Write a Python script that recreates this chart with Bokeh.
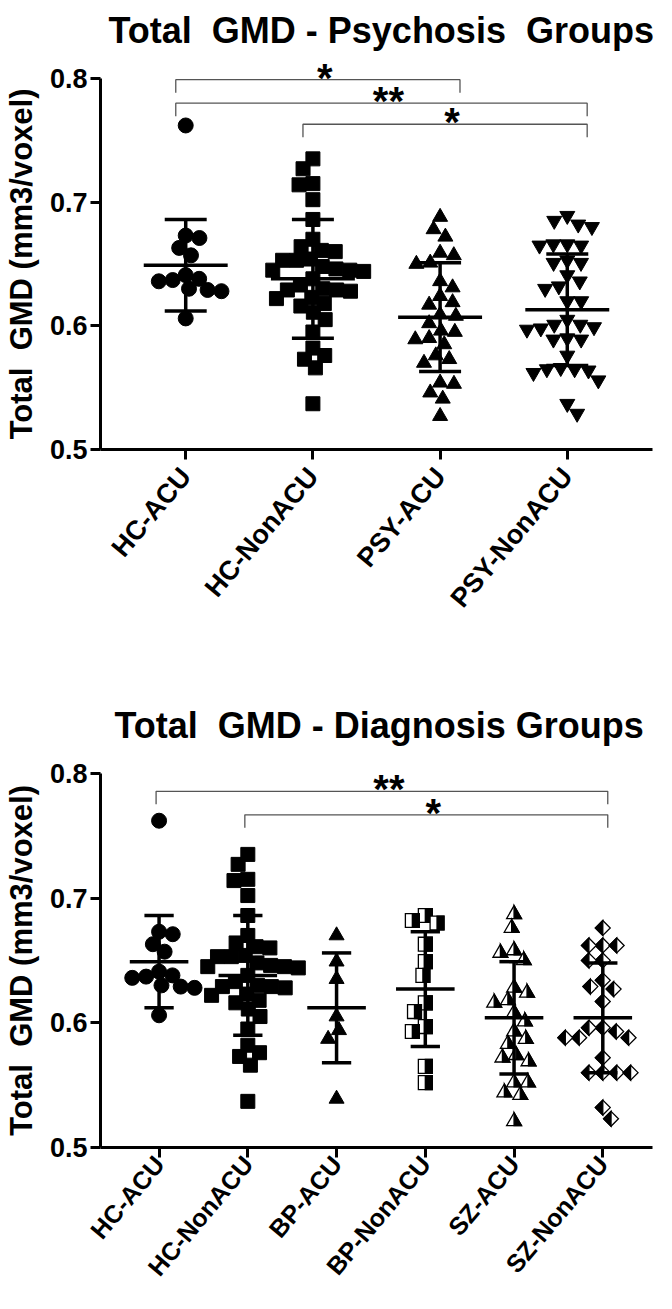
import math
from bokeh.plotting import figure
from bokeh.layouts import column
from bokeh.models import FixedTicker, ColumnDataSource
from bokeh.core.properties import value
from bokeh.embed import file_html
from bokeh.resources import INLINE

FONT = "Liberation Sans"
NB = "\u00a0"

# ---------------- data ----------------
psy_categories = ["HC-ACU", "HC-NonACU", "PSY-ACU", "PSY-NonACU"]
dx_categories = ["HC-ACU", "HC-NonACU", "BP-ACU", "BP-NonACU", "SZ-ACU", "SZ-NonACU"]

hc_acu = [0.762, 0.673, 0.671, 0.663, 0.657, 0.641, 0.638, 0.637, 0.636,
          0.630, 0.629, 0.628, 0.606]
hc_nonacu = [0.735, 0.727, 0.715, 0.714, 0.702, 0.686, 0.670, 0.664, 0.661,
             0.660, 0.654, 0.653, 0.653, 0.648, 0.646, 0.645, 0.645, 0.644,
             0.638, 0.633, 0.630, 0.629, 0.629, 0.628, 0.623, 0.622, 0.618,
             0.616, 0.611, 0.605, 0.595, 0.582, 0.576, 0.573, 0.566, 0.537]
psy_acu = [0.688, 0.678, 0.672, 0.659, 0.657, 0.651, 0.650, 0.636, 0.631,
           0.624, 0.619, 0.617, 0.609, 0.608, 0.602, 0.596, 0.595, 0.590,
           0.589, 0.585, 0.576, 0.573, 0.570, 0.554, 0.553, 0.546, 0.541, 0.527]
psy_nonacu = [0.689, 0.685, 0.682, 0.680, 0.666, 0.666, 0.665, 0.665, 0.653,
              0.651, 0.651, 0.641, 0.636, 0.632, 0.630, 0.620, 0.620, 0.605,
              0.601, 0.601, 0.599, 0.598, 0.597, 0.590, 0.589, 0.589, 0.576,
              0.566, 0.565, 0.565, 0.564, 0.562, 0.556, 0.537, 0.529]
bp_acu = [0.670, 0.649, 0.635, 0.605, 0.594, 0.587, 0.539]
bp_nonacu = [0.686, 0.682, 0.680, 0.663, 0.649, 0.638, 0.616, 0.609, 0.597,
             0.593, 0.565, 0.552]
sz_acu = [0.687, 0.676, 0.658, 0.656, 0.650, 0.628, 0.624, 0.618, 0.616,
          0.608, 0.601, 0.593, 0.587, 0.583, 0.574, 0.572, 0.569, 0.552,
          0.552, 0.544, 0.542, 0.521]
sz_nonacu = [0.676, 0.662, 0.662, 0.662, 0.650, 0.650, 0.634, 0.629, 0.627,
             0.617, 0.596, 0.596, 0.593, 0.588, 0.588, 0.588, 0.572, 0.560,
             0.560, 0.560, 0.560, 0.532, 0.523]

psy_means = [0.649, 0.638, 0.607, 0.613]
psy_sds = [0.037, 0.048, 0.044, 0.045]
dx_means = [0.649, 0.638, 0.612, 0.627, 0.604, 0.604]
dx_sds = [0.037, 0.048, 0.044, 0.046, 0.045, 0.044]

y_ticks = [0.5, 0.6, 0.7, 0.8]
# trailing no-break spaces keep the label centred on the 0.5-0.8 span
y_label = "Total" + NB + " GMD (mm3/voxel)" + NB * 3
psy_title = "Total" + NB + " GMD - Psychosis" + NB + " Groups"
dx_title = "Total" + NB + " GMD - Diagnosis Groups"

# significance: (label, group a, group b, bracket level)
psy_sig = [("*", 1, 3, 0.799), ("**", 1, 4, 0.780), ("*", 2, 4, 0.763)]
dx_sig = [("**", 1, 6, 0.7856), ("*", 2, 6, 0.7667)]

W = 656


def swarm_offsets(vals, ppy, ppx, md):
    n = len(vals)
    order = sorted(range(n), key=lambda i: -vals[i])
    placed = []
    offs = [0.0] * n
    for k, i in enumerate(order):
        y = vals[i] * ppy
        cands = [0.0]
        for xp, yp in placed:
            dy = abs(y - yp)
            if dy < md:
                d = math.sqrt(md * md - dy * dy)
                cands.append(xp + d)
                cands.append(xp - d)
        sgn = 1 if k % 2 else -1
        cands.sort(key=lambda c: (round(abs(c), 4), sgn * c))
        for c in cands:
            if all((c - xp) ** 2 + (y - yp) ** 2 >= md * md - 1e-6 for xp, yp in placed):
                offs[i] = c / ppx
                placed.append((c, y))
                break
    return offs


def make_fig(title, cats, height, bl, br, bt, bb, xr, yr, title_offset, xlab_size, xlab_standoff):
    p = figure(width=W, height=height, x_range=xr, y_range=yr,
               output_backend="svg", toolbar_location=None,
               min_border_left=bl, min_border_right=br,
               min_border_top=bt, min_border_bottom=bb)
    p.title.text = title
    p.title.text_font = FONT
    p.title.text_font_size = "36px"
    p.title.text_font_style = "bold"
    p.title.text_color = "black"
    p.title.align = "left"
    p.title.offset = title_offset
    p.title.standoff = 4
    p.grid.visible = False
    p.outline_line_color = None
    p.background_fill_color = "white"
    p.border_fill_color = "white"

    xa = p.xaxis[0]
    xa.ticker = FixedTicker(ticks=list(range(1, len(cats) + 1)))
    xa.major_label_overrides = {i + 1: c for i, c in enumerate(cats)}
    xa.major_label_orientation = 0.87
    xa.major_label_standoff = xlab_standoff

    ya = p.yaxis[0]
    ya.ticker = FixedTicker(ticks=y_ticks)
    ya.bounds = (0.5, 0.8)
    ya.major_label_standoff = 3
    ya.axis_label = y_label
    ya.axis_label_text_font = FONT
    ya.axis_label_text_font_size = "31px"
    ya.axis_label_text_font_style = "bold"
    ya.axis_label_text_color = "black"
    ya.axis_label_standoff = 8

    for ax in (xa, ya):
        ax.axis_line_width = 3
        ax.axis_line_color = "black"
        ax.major_tick_line_width = 3
        ax.major_tick_line_color = "black"
        ax.major_tick_in = 0
        ax.major_tick_out = 10
        ax.minor_tick_line_color = None
        ax.major_label_text_font = FONT
        ax.major_label_text_font_style = "bold"
        ax.major_label_text_color = "black"
    ya.major_label_text_font_size = "27px"
    xa.major_label_text_font_size = xlab_size
    return p


def poly_source(xc_list, yc_list, ppx, ppy, full, half, half_fill="black"):
    xs, ys, fills = [], [], []
    for xc, yc in zip(xc_list, yc_list):
        # (sx, sy): screen offsets in px, sy positive = up
        xs.append([xc + sx / ppx for sx, sy in full])
        ys.append([yc + sy / ppy for sx, sy in full])
        fills.append("white")
        xs.append([xc + sx / ppx for sx, sy in half])
        ys.append([yc + sy / ppy for sx, sy in half])
        fills.append(half_fill)
    return ColumnDataSource(dict(xs=xs, ys=ys, fill=fills))


def draw_group(p, gi, vals, kind, ppx, ppy, size=15):
    offs = swarm_offsets(vals, ppy, ppx, 14.0)
    xs = [gi + o for o in offs]
    if kind in ("circle", "square", "triangle", "inverted_triangle"):
        s = size if kind != "square" else size - 1
        p.scatter(xs, vals, marker=kind, size=s, fill_color="black",
                  line_color="black", line_width=1)
        return
    r = size / 2.0
    if kind == "half_square":
        h = (size - 1) / 2.0
        full = [(-h, -h), (h, -h), (h, h), (-h, h)]
        half = [(0, -h), (h, -h), (h, h), (0, h)]
    elif kind == "half_triangle":
        th = r * math.sqrt(3)
        a = th / 3
        full = [(-r, -a), (r, -a), (0, th - a)]
        half = [(0, th - a), (r, -a), (0, -a)]
    else:  # half diamond, left half black
        full = [(0, r), (r, 0), (0, -r), (-r, 0)]
        half = [(0, r), (0, -r), (-r, 0)]
    src = poly_source(xs, vals, ppx, ppy, full, half)
    p.patches("xs", "ys", source=src, fill_color="fill", line_color="black",
              line_width=1.3, line_join="miter")


def draw_bars(p, means, sds):
    n = len(means)
    gx = list(range(1, n + 1))
    p.segment(gx, [m - s for m, s in zip(means, sds)], gx,
              [m + s for m, s in zip(means, sds)], line_color="black", line_width=3.5)
    p.segment([g - 0.33 for g in gx], means, [g + 0.33 for g in gx], means,
              line_color="black", line_width=3.5)
    for sign in (-1, 1):
        yy = [m + sign * s for m, s in zip(means, sds)]
        p.segment([g - 0.165 for g in gx], yy, [g + 0.165 for g in gx], yy,
                  line_color="black", line_width=3.5)


def draw_sig(p, sig, ppx, ppy, left_px, right_px, leg_px=13):
    xs, ys, tx, ty, tt = [], [], [], [], []
    leg = leg_px / ppy
    for label, a, b, lvl in sig:
        xl = a + left_px / ppx
        xr = b + right_px / ppx
        xs.append([xl, xl, xr, xr])
        ys.append([lvl - leg, lvl, lvl, lvl - leg])
        tx.append((xl + xr) / 2 + 7 / ppx)
        ty.append(lvl)
        tt.append(label)
    p.multi_line(xs, ys, line_color="#555555", line_width=1.3)
    p.text(tx, ty, text=tt, text_font=value(FONT), text_font_size=value("40px"),
           text_font_style="bold", text_align="center", text_baseline="alphabetic",
           y_offset=-2, text_color="black")


# ---------------- top: psychosis groups ----------------
H1, BL1, BR1, BT1, BB1 = 695, 97, 4, 52, 246
xr1 = (0.33, 4.67)
yr1 = (0.5, 0.821)
ppx1 = (W - BL1 - BR1) / (xr1[1] - xr1[0])
ppy1 = (H1 - BT1 - BB1) / (yr1[1] - yr1[0])
p1 = make_fig(psy_title, psy_categories, H1, BL1, BR1, BT1, BB1, xr1, yr1, 8, "27px", 12)
for gi, (vals, kind) in enumerate([(hc_acu, "circle"), (hc_nonacu, "square"),
                                    (psy_acu, "triangle"), (psy_nonacu, "inverted_triangle")], start=1):
    draw_group(p1, gi, vals, kind, ppx1, ppy1)
draw_bars(p1, psy_means, psy_sds)
draw_sig(p1, psy_sig, ppx1, ppy1, -10, 20)

# ---------------- bottom: diagnosis groups ----------------
H2, BL2, BR2, BT2, BB2 = 598, 100, 0, 52, 144
xr2 = (0.34, 6.56)
yr2 = (0.5, 0.8207)
ppx2 = (W - BL2 - BR2) / (xr2[1] - xr2[0])
ppy2 = (H2 - BT2 - BB2) / (yr2[1] - yr2[0])
p2 = make_fig(dx_title, dx_categories, H2, BL2, BR2, BT2, BB2, xr2, yr2, 14, "25px", 2)
for gi, (vals, kind) in enumerate([(hc_acu, "circle"), (hc_nonacu, "square"),
                                    (bp_acu, "triangle"), (bp_nonacu, "half_square"),
                                    (sz_acu, "half_triangle"), (sz_nonacu, "half_diamond")], start=1):
    draw_group(p2, gi, vals, kind, ppx2, ppy2)
draw_bars(p2, dx_means, dx_sds)
draw_sig(p2, dx_sig, ppx2, ppy2, -3, 5)

layout = column(p1, p2)
open("out.html", "w").write(file_html(layout, INLINE))
